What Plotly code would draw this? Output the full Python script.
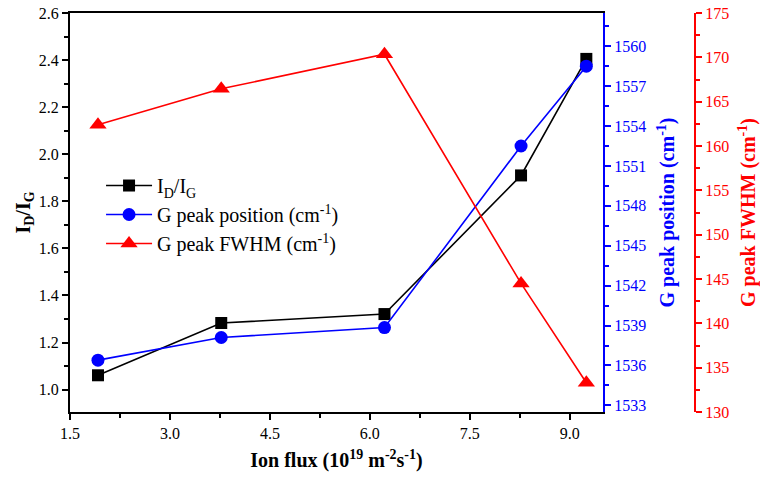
import plotly.graph_objects as go

ion_flux = [1.92, 3.77, 6.22, 8.27, 9.25]
id_ig = [1.061, 1.283, 1.321, 1.91, 2.405]
g_pos = [1536.4, 1538.1, 1538.85, 1552.5, 1558.5]
g_fwhm = [162.4, 166.45, 170.35, 144.5, 133.3]

FONT = "Liberation Serif"
fig = go.Figure()
fig.add_trace(go.Scatter(x=ion_flux, y=id_ig, mode="lines+markers",
                         name="I<sub>D</sub>/I<sub>G</sub>",
                         line=dict(color="black", width=1.6),
                         marker=dict(symbol="square", size=12, color="black"),
                         yaxis="y"))
fig.add_trace(go.Scatter(x=ion_flux, y=g_pos, mode="lines+markers",
                         name="G peak position (cm<sup>-1</sup>)",
                         line=dict(color="blue", width=1.6),
                         marker=dict(symbol="circle", size=13, color="blue"),
                         yaxis="y2"))
fig.add_trace(go.Scatter(x=ion_flux, y=g_fwhm, mode="lines+markers",
                         name="G peak FWHM (cm<sup>-1</sup>)",
                         line=dict(color="red", width=1.6),
                         marker=dict(symbol="triangle-up", size=15, color="red"),
                         yaxis="y3"))

tickfont = dict(family=FONT, size=16, color="black")
fig.update_layout(
    width=760, height=481,
    margin=dict(l=70, r=0, t=13, b=69),
    paper_bgcolor="white", plot_bgcolor="white",
    font=dict(family=FONT, size=16, color="black"),
    showlegend=True,
    legend=dict(x=0.045, y=0.6165, xanchor="left", yanchor="top",
                bgcolor="rgba(0,0,0,0)", font=dict(family=FONT, size=20),
                tracegroupgap=0, itemwidth=46),
    xaxis=dict(domain=[0, 533/690], range=[1.5, 9.5],
               tick0=1.5, dtick=1.5, tickformat=".1f",
               ticks="outside", ticklen=6, tickwidth=1.5, tickcolor="black",
               minor=dict(dtick=0.75, ticks="outside", ticklen=4, tickwidth=1.5, tickcolor="black"),
               showline=True, linecolor="black", linewidth=2, mirror=True,
               showgrid=False, zeroline=False, tickfont=tickfont,
               title=dict(text="<b>Ion flux (10<sup>19</sup> m<sup>-2</sup>s<sup>-1</sup>)</b>",
                          font=dict(family=FONT, size=20), standoff=12)),
    yaxis=dict(range=[0.905, 2.6], tick0=1.0, dtick=0.2, tickformat=".1f",
               ticks="outside", ticklen=6, tickwidth=1.5, tickcolor="black",
               minor=dict(dtick=0.1, ticks="outside", ticklen=4, tickwidth=1.5, tickcolor="black"),
               showline=True, linecolor="black", linewidth=2,
               showgrid=False, zeroline=False, tickfont=tickfont,
               title=dict(text="<b>I<sub>D</sub>/I<sub>G</sub></b>",
                          font=dict(family=FONT, size=20), standoff=3)),
    yaxis2=dict(overlaying="y", side="right", anchor="x",
                range=[1532.5, 1562.5], tick0=1533, dtick=3,
                ticks="outside", ticklen=6, tickwidth=1.5, tickcolor="blue",
                minor=dict(dtick=1.5, ticks="outside", ticklen=4, tickwidth=1.5, tickcolor="blue"),
                showline=True, linecolor="blue", linewidth=2,
                showgrid=False, zeroline=False,
                tickfont=dict(family=FONT, size=16, color="blue"),
                title=dict(text="<b>G peak position (cm<sup>-1</sup>)</b>",
                           font=dict(family=FONT, size=20, color="blue"), standoff=15)),
    yaxis3=dict(overlaying="y", side="right", anchor="free", position=625/690,
                range=[130, 175], tick0=130, dtick=5,
                ticks="outside", ticklen=6, tickwidth=1.5, tickcolor="red",
                minor=dict(dtick=2.5, ticks="outside", ticklen=4, tickwidth=1.5, tickcolor="red"),
                showline=True, linecolor="red", linewidth=2,
                showgrid=False, zeroline=False,
                tickfont=dict(family=FONT, size=16, color="red"),
                title=dict(text="<b>G peak FWHM (cm<sup>-1</sup>)</b>",
                           font=dict(family=FONT, size=20, color="red"), standoff=14)),
)

fig.write_html("out.html")
